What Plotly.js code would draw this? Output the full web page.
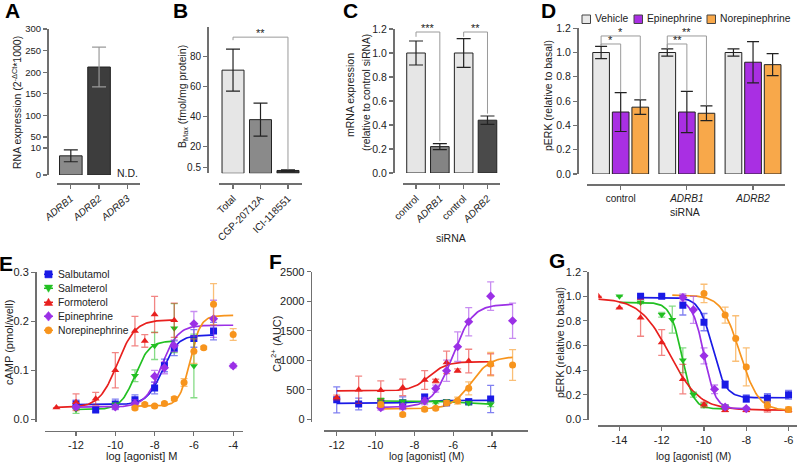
<!DOCTYPE html>
<html><head><meta charset="utf-8">
<script src="https://cdn.plot.ly/plotly-3.0.1.min.js"></script>
<style>html,body{margin:0;padding:0;background:#fff}#chart{width:800px;height:464px}</style>
</head><body><div id="chart"></div>
<script>
// ================= DATA =================
// Panel A: RNA expression
const genesA = ['ADRB1', 'ADRB2', 'ADRB3'];
const rnaExpr = [7.1, 212, null];          // ADRB3 not detected
const rnaErr = [2.2, 46, null];
// Panel B: Bmax
const ligandsB = ['Total', 'CGP-20712A', 'ICI-118551'];
const bmax = [71, 38, 0.25];
const bmaxErr = [14, 11, 0.05];
// Panel C: mRNA expression after siRNA
const sirnaC = ['control', 'ADRB1', 'control', 'ADRB2'];
const mrnaRel = [1.0, 0.22, 1.0, 0.44];
const mrnaErr = [0.10, 0.025, 0.12, 0.035];
// Panel D: pERK by siRNA
const sirnaD = ['control', 'ADRB1', 'ADRB2'];
const treatmentsD = ['Vehicle', 'Epinephrine', 'Norepinephrine'];
const perkVehicle = [1.0, 1.0, 1.0];
const perkVehicleErr = [0.05, 0.03, 0.03];
const perkEpi = [0.51, 0.51, 0.92];
const perkEpiErr = [0.16, 0.17, 0.17];
const perkNorepi = [0.55, 0.50, 0.90];
const perkNorepiErr = [0.06, 0.06, 0.09];

// Agonists (E, F, G)
const agonists = ['Salbutamol', 'Salmeterol', 'Formoterol', 'Epinephrine', 'Norepinephrine'];

// Panel E: cAMP (pmol/well)
const eSalbutamolX = [-12, -11, -10, -9, -8, -7.5, -7, -6, -5];
const eSalbutamolY = [0.031, 0.019, 0.031, 0.040, 0.064, 0.110, 0.145, 0.165, 0.180];
const eSalbutamolErr = [0.008, 0.004, 0.010, 0.010, 0.012, 0.013, 0.015, 0.018, 0.018];
const eSalmeterolX = [-12, -10, -9, -8, -7, -6];
const eSalmeterolY = [0.020, 0.029, 0.089, 0.150, 0.186, 0.109];
const eSalmeterolErr = [0.008, 0.005, 0.012, 0.028, 0.050, 0.065];
const eFormoterolX = [-13, -12, -11, -10, -9, -8.5, -8, -7];
const eFormoterolY = [0.024, 0.035, 0.042, 0.100, 0.180, 0.160, 0.214, 0.202];
const eFormoterolErr = [0, 0.017, 0.013, 0.036, 0.030, 0.013, 0.037, 0.035];
const eEpinephrineX = [-12, -10, -9, -8, -7.5, -7, -6, -5, -4];
const eEpinephrineY = [0.025, 0.025, 0.032, 0.088, 0.105, 0.150, 0.195, 0.205, 0.109];
const eEpinephrineErr = [0.004, 0.005, 0.008, 0.012, 0.012, 0.012, 0.025, 0.038, 0.004];
const eNorepinephrineX = [-9, -8.5, -8, -7.5, -7, -6.5, -6, -5.5, -5, -4];
const eNorepinephrineY = [0.023, 0.030, 0.027, 0.032, 0.042, 0.075, 0.139, 0.146, 0.235, 0.173];
const eNorepinephrineErr = [0.003, 0.003, 0.003, 0.003, 0.004, 0.008, 0.025, 0.003, 0.042, 0.012];
// fitted curves E: [left plateau, right plateau, logEC50, hill], span
const eFits = [[0.030, 0.172, -7.6, 1.1], [0.020, 0.160, -9.0, 1.2], [0.024, 0.203, -9.9, 0.95], [0.025, 0.192, -7.65, 1.05], [0.027, 0.212, -6.2, 1.6]];
const eSpans = [[-12, -5], [-12, -7], [-13, -7], [-12, -4], [-9, -4]];

// Panel F: Ca2+ (AUC) -- x positions read against the drawn axis ticks
const fSalbutamolX = [-12, -10.87, -9.73, -8.6, -7.47, -6.34, -5.2, -4.07];
const fSalbutamolY = [330, 260, 270, 280, 372, 282, 299, 344];
const fSalbutamolErr = [220, 100, 60, 100, 60, 50, 50, 230];
const fSalmeterolX = [-9.73, -8.6, -7.47, -6.9, -6.34, -5.2, -4.07];
const fSalmeterolY = [330, 300, 295, 290, 300, 275, 255];
const fSalmeterolErr = [30, 30, 25, 25, 30, 30, 40];
const fFormoterolX = [-12, -10.87, -9.73, -8.6, -7.47, -6.9, -6.34, -5.77, -5.2, -4.07];
const fFormoterolY = [370, 500, 490, 540, 665, 648, 964, 823, 986, 930];
const fFormoterolErr = [40, 230, 160, 140, 160, 30, 190, 30, 200, 180];
const fEpinephrineX = [-9.73, -8.6, -7.47, -6.9, -6.34, -5.77, -5.2, -4.07, -2.94];
const fEpinephrineY = [195, 215, 310, 520, 823, 1229, 1652, 2086, 1669];
const fEpinephrineErr = [40, 50, 60, 60, 180, 250, 240, 240, 300];
const fNorepinephrineX = [-9.73, -8.6, -7.47, -6.9, -6.34, -5.77, -5.2, -4.07, -2.94];
const fNorepinephrineY = [250, 80, 170, 186, 275, 316, 524, 935, 919];
const fNorepinephrineErr = [40, 25, 30, 25, 40, 60, 110, 200, 260];
const fFits = [[270, 320, -8.03, 0.88], [310, 255, -5.77, 0.88], [480, 975, -7.24, 0.97], [200, 1950, -6.03, 0.84], [175, 1060, -5.09, 0.88]];
const fSpans = [[-12, -4.07], [-9.73, -4.07], [-12, -4.07], [-9.73, -2.94], [-9.73, -2.94]];

// Panel G: pERK (relative to basal)
const gSalbutamolX = [-13, -12, -11, -10, -9, -8, -7, -6];
const gSalbutamolY = [1.0, 1.0, 0.928, 0.79, 0.282, 0.168, 0.174, 0.20];
const gSalbutamolErr = [0.01, 0.01, 0.08, 0.07, 0.03, 0.03, 0.035, 0.035];
const gSalmeterolX = [-14, -13, -12, -11.5, -11, -10.5, -10, -9];
const gSalmeterolY = [1.0, 0.95, 0.85, 0.81, 0.48, 0.20, 0.114, 0.10];
const gSalmeterolErr = [0, 0.01, 0.02, 0.11, 0.10, 0.02, 0.02, 0.02];
const gFormoterolX = [-15, -14, -13, -12, -11, -10, -9, -8, -7, -6];
const gFormoterolY = [1.0, 0.906, 0.825, 0.624, 0.326, 0.12, 0.073, 0.073, 0.079, 0.073];
const gFormoterolErr = [0, 0, 0.15, 0.105, 0.12, 0.02, 0.01, 0.01, 0.02, 0.015];
const gEpinephrineX = [-11, -10.5, -10, -9.5, -9, -8];
const gEpinephrineY = [0.99, 0.89, 0.516, 0.244, 0.10, 0.087];
const gEpinephrineErr = [0.03, 0.11, 0.065, 0.035, 0.02, 0.01];
const gNorepinephrineX = [-10, -9, -8.5, -8, -7, -6];
const gNorepinephrineY = [1.023, 0.847, 0.657, 0.426, 0.115, 0.08];
const gNorepinephrineErr = [0.075, 0.065, 0.185, 0.155, 0.03, 0.02];
const gFits = [[0.99, 0.175, -9.6, 1.4], [0.95, 0.085, -11.05, 1.6], [0.985, 0.075, -11.63, 0.62], [0.97, 0.085, -10.0, 1.6], [1.01, 0.07, -8.3, 1.0]];
const gSpans = [[-13, -6], [-14, -9], [-15, -6], [-11, -8], [-11.5, -6]];

const logTicks = [-14, -12, -10, -8, -6, -4];

// ================= STYLE / HELPERS =================
const FONT = 'Liberation Sans, Arial, Helvetica, sans-serif';
const W = 800, H = 464;
const px = x => x / W;
const py = y => 1 - y / H;
const colors = ['#1a1ae6', '#22c022', '#e8201e', '#9b30e6', '#f7941d'];
const errColors = ['rgba(26,26,230,0.55)', 'rgba(34,192,34,0.55)', 'rgba(232,32,30,0.55)', 'rgba(155,48,230,0.55)', 'rgba(247,148,29,0.6)'];
const symbols = ['square', 'triangle-down', 'triangle-up', 'diamond', 'circle'];

// broken-axis transforms (display units)
function brkA(v) { if (v <= 10) return v * 2.7; if (v <= 50) return 27 + (v - 10) * (11 / 40); return 38 + (v - 50) * 0.432; }
function brkB(v) { if (v <= 0.5) return v * 11.3; if (v < 6) return 5.65; return 5.65 + (v - 6) * 1.5; }

function fourPL(p, x) { return p[0] + (p[1] - p[0]) / (1 + Math.pow(10, (p[2] - x) * p[3])); }
function curve(p, span) {
  const xs = [], ys = [];
  for (let i = 0; i <= 100; i++) { const x = span[0] + (span[1] - span[0]) * i / 100; xs.push(x); ys.push(fourPL(p, x)); }
  return { xs, ys };
}

const axisBase = {
  showgrid: false, zeroline: false, showline: true, linecolor: '#707070', linewidth: 1.5,
  ticks: 'outside', ticklen: 4, tickwidth: 1.2, tickcolor: '#707070',
  tickfont: { family: FONT, size: 11, color: '#222' }, anchor: 'free', fixedrange: true
};
function xax(d0, d1, range, pos, extra) { return Object.assign({}, axisBase, { domain: [px(d0), px(d1)], range: range, position: py(pos) }, extra || {}); }
function yax(top, bottom, range, pos, extra) { return Object.assign({}, axisBase, { domain: [py(bottom), py(top)], range: range, position: px(pos) }, extra || {}); }
const smallFont = { family: FONT, size: 10, color: '#222' };

const traces = [];
const shapes = [];
const annos = [];

function barTrace(xa, ya, xs, ys, up, down, color, errColor, width, extra) {
  return Object.assign({
    type: 'bar', x: xs, y: ys, width: width, xaxis: xa, yaxis: ya, showlegend: false, hoverinfo: 'skip',
    marker: { color: color, line: { color: '#222', width: 1 } },
    error_y: { type: 'data', symmetric: false, array: up, arrayminus: down, color: errColor, thickness: 1.2, width: 7 }
  }, extra || {});
}
function line(xref, yref, x0, y0, x1, y1, color, width) {
  shapes.push({ type: 'line', xref: xref, yref: yref, x0: x0, y0: y0, x1: x1, y1: y1, line: { color: color || '#9a9a9a', width: width || 1 } });
}
function bracket(xref, yref, xa, xb, level, ya, yb, stars) {
  line(xref, yref, xa, ya, xa, level);
  line(xref, yref, xa, level, xb, level);
  line(xref, yref, xb, level, xb, yb);
  annos.push({ xref: xref, yref: yref, x: (xa + xb) / 2, y: level, text: stars, showarrow: false, yanchor: 'bottom', yshift: -4, font: { family: FONT, size: 11, color: '#222' } });
}

// ================= PANEL A =================
[0, 1].forEach(i => {
  const v = rnaExpr[i], e = rnaErr[i];
  traces.push(barTrace('x', 'y', [i], [brkA(v)], [brkA(v + e) - brkA(v)], [brkA(v) - brkA(v - e)],
    i === 0 ? '#8a8a8a' : '#3d3d3d', i === 0 ? '#222' : '#9a9a9a', 0.8));
});
annos.push({ xref: 'x', yref: 'y', x: 2, y: brkA(0.7), text: 'N.D.', showarrow: false, yanchor: 'middle', font: { family: FONT, size: 10.5, color: '#222' } });

// ================= PANEL B =================
traces.push(barTrace('x2', 'y2', [0, 1, 2], bmax.map(brkB),
  bmax.map((v, i) => brkB(v + bmaxErr[i]) - brkB(v)), bmax.map((v, i) => brkB(v) - brkB(Math.max(v - bmaxErr[i], 0))),
  ['#e6e6e6', '#8a8a8a', '#333333'], '#222', 0.8));
bracket('x2', 'y2', 0, 2, brkB(93), brkB(91), brkB(bmax[2] + bmaxErr[2] + 0.05), '**');

// ================= PANEL C =================
traces.push(barTrace('x3', 'y3', [0, 1, 2, 3], mrnaRel, mrnaErr, mrnaErr,
  ['#e6e6e6', '#848484', '#e6e6e6', '#4a4a4a'], '#222', 0.78));
bracket('x3', 'y3', 0, 1, 1.175, 1.135, mrnaRel[1] + mrnaErr[1] + 0.02, '***');
bracket('x3', 'y3', 2, 3, 1.175, 1.135, mrnaRel[3] + mrnaErr[3] + 0.02, '**');

// ================= PANEL D =================
const dVals = [perkVehicle, perkEpi, perkNorepi];
const dErrs = [perkVehicleErr, perkEpiErr, perkNorepiErr];
const dColors = ['#e8e8e8', '#a92fe3', '#f8a84a'];
const dSlot = 0.296, dWidth = 0.252;
dVals.forEach((vals, t) => {
  traces.push(barTrace('x4', 'y4', [0, 1, 2], vals, dErrs[t], dErrs[t], dColors[t], '#222', dWidth,
    { name: treatmentsD[t], offset: (t - 1) * dSlot - dWidth / 2, error_y: { type: 'data', array: dErrs[t], color: '#222', thickness: 1.2, width: 6 } }));
});
[0, 1].forEach(g => {
  const xv = g - dSlot, xe = g, xn = g + dSlot;
  const vTop = perkVehicle[g] + perkVehicleErr[g] + 0.005;
  bracket('x4', 'y4', xv, xe, 1.07, vTop, perkEpi[g] + perkEpiErr[g] + 0.005, g === 0 ? '*' : '**');
  bracket('x4', 'y4', xv, xn, 1.136, vTop, perkNorepi[g] + perkNorepiErr[g] + 0.005, g === 0 ? '*' : '**');
});
// legend for D (swatches + text)
const legDX = [582, 634, 707];
treatmentsD.forEach((name, t) => {
  shapes.push({ type: 'rect', xref: 'paper', yref: 'paper', x0: px(legDX[t]), x1: px(legDX[t] + 8.5), y0: py(23.5), y1: py(15),
    fillcolor: dColors[t], line: { color: '#444', width: 1 } });
  annos.push({ xref: 'paper', yref: 'paper', x: px(legDX[t] + 10.5), y: py(19), xanchor: 'left', yanchor: 'middle', text: name, showarrow: false,
    font: { family: FONT, size: 10.3, color: '#222' } });
});

// ================= PANELS E, F, G =================
const eX = [eSalbutamolX, eSalmeterolX, eFormoterolX, eEpinephrineX, eNorepinephrineX];
const eY = [eSalbutamolY, eSalmeterolY, eFormoterolY, eEpinephrineY, eNorepinephrineY];
const eE = [eSalbutamolErr, eSalmeterolErr, eFormoterolErr, eEpinephrineErr, eNorepinephrineErr];
const fX = [fSalbutamolX, fSalmeterolX, fFormoterolX, fEpinephrineX, fNorepinephrineX];
const fY = [fSalbutamolY, fSalmeterolY, fFormoterolY, fEpinephrineY, fNorepinephrineY];
const fE = [fSalbutamolErr, fSalmeterolErr, fFormoterolErr, fEpinephrineErr, fNorepinephrineErr];
const gX = [gSalbutamolX, gSalmeterolX, gFormoterolX, gEpinephrineX, gNorepinephrineX];
const gY = [gSalbutamolY, gSalmeterolY, gFormoterolY, gEpinephrineY, gNorepinephrineY];
const gE = [gSalbutamolErr, gSalmeterolErr, gFormoterolErr, gEpinephrineErr, gNorepinephrineErr];

const panels = [
  { xa: 'x5', ya: 'y5', X: eX, Y: eY, E: eE, fits: eFits, spans: eSpans },
  { xa: 'x6', ya: 'y6', X: fX, Y: fY, E: fE, fits: fFits, spans: fSpans },
  { xa: 'x7', ya: 'y7', X: gX, Y: gY, E: gE, fits: gFits, spans: gSpans }
];
panels.forEach(p => {
  agonists.forEach((name, i) => {
    const c = curve(p.fits[i], p.spans[i]);
    traces.push({ type: 'scatter', mode: 'lines', x: c.xs, y: c.ys, xaxis: p.xa, yaxis: p.ya, showlegend: false, hoverinfo: 'skip',
      line: { color: colors[i], width: 1.7 } });
  });
  agonists.forEach((name, i) => {
    traces.push({ type: 'scatter', mode: 'markers', name: name, x: p.X[i], y: p.Y[i], xaxis: p.xa, yaxis: p.ya,
      showlegend: false, hoverinfo: 'skip',
      marker: { symbol: symbols[i], color: colors[i], size: 7 },
      error_y: { type: 'data', array: p.E[i], color: errColors[i], thickness: 1.3, width: 3.5 } });
  });
});

// legend for E (marker swatches + text), 14 px row spacing as in the figure
const legEX = 48.5, legEY0 = 274.3, legEStep = 14;
agonists.forEach((name, i) => {
  const cx = legEX, cy = legEY0 + i * legEStep;
  line('paper', 'paper', px(cx - 4.5), py(cy), px(cx + 4.5), py(cy), colors[i], 1.5);
  const r = 3.6;
  let shp;
  if (i === 0) shp = { type: 'rect', x0: px(cx - r), x1: px(cx + r), y0: py(cy + r), y1: py(cy - r) };
  else if (i === 4) shp = { type: 'circle', x0: px(cx - r), x1: px(cx + r), y0: py(cy + r), y1: py(cy - r) };
  else {
    let pts;
    if (i === 1) pts = [[cx - 4.2, cy - 3.2], [cx + 4.2, cy - 3.2], [cx, cy + 4]];
    else if (i === 2) pts = [[cx - 4.2, cy + 3.2], [cx + 4.2, cy + 3.2], [cx, cy - 4]];
    else pts = [[cx, cy - 4.8], [cx + 4, cy], [cx, cy + 4.8], [cx - 4, cy]];
    shp = { type: 'path', path: 'M' + pts.map(q => px(q[0]) + ',' + py(q[1])).join(' L') + ' Z' };
  }
  shapes.push(Object.assign(shp, { xref: 'paper', yref: 'paper', fillcolor: colors[i], line: { color: colors[i], width: 0.5 } }));
  annos.push({ xref: 'paper', yref: 'paper', x: px(56), y: py(cy), xanchor: 'left', yanchor: 'middle', text: name, showarrow: false,
    font: { family: FONT, size: 10.3, color: '#222' } });
});

// ================= TITLES / LABELS =================
function ytitle(x, y, text, size) {
  annos.push({ xref: 'paper', yref: 'paper', x: px(x), y: py(y), text: text, textangle: -90, showarrow: false,
    xanchor: 'center', yanchor: 'middle', font: { family: FONT, size: size || 10.5, color: '#222' } });
}
function xtitle(x, y, text, size) {
  annos.push({ xref: 'paper', yref: 'paper', x: px(x), y: py(y), text: text, showarrow: false,
    xanchor: 'center', yanchor: 'middle', font: { family: FONT, size: size || 10.5, color: '#222' } });
}
ytitle(16, 103, 'RNA expression (2<sup>-ΔCt</sup>*1000)', 10.5);
ytitle(183, 97, 'B<sub>Max</sub> (fmol/mg protein)', 10.5);
ytitle(350, 95, 'mRNA expression', 10.5);
ytitle(366, 93, '(relative to control siRNA)', 10.3);
ytitle(548, 96, 'pERK (relative to basal)', 10.5);
xtitle(451, 238, 'siRNA', 10.5);
xtitle(685, 212, 'siRNA', 10.5);
ytitle(9, 343, 'cAMP (pmol/well)', 11);
ytitle(276, 344, 'Ca<sup>2+</sup> (AUC)', 11);
ytitle(560, 343, 'pERK (relative to basal)', 10.5);
xtitle(142, 456, 'log [agonist] M', 11);
xtitle(427, 456, 'log [agonist] (M)', 10.5);
xtitle(693, 456, 'log [agonist] (M)', 10.5);

const letters = [['A', 12, 11], ['B', 180, 10], ['C', 350, 10], ['D', 548, 10], ['E', 6, 263], ['F', 275, 261], ['G', 557, 260]];
letters.forEach(l => annos.push({ xref: 'paper', yref: 'paper', x: px(l[1]), y: py(l[2]), text: '<b>' + l[0] + '</b>', showarrow: false,
  xanchor: 'center', yanchor: 'middle', font: { family: FONT, size: 21, color: '#000' } }));

// ================= LAYOUT =================
const layout = {
  width: W, height: H, margin: { l: 0, r: 0, t: 0, b: 0 }, paper_bgcolor: '#fff', plot_bgcolor: 'rgba(0,0,0,0)',
  font: { family: FONT, size: 11, color: '#222' }, barmode: 'overlay', showlegend: false,
  // A
  xaxis: xax(56.7, 140, [-0.5, 2.45], 183.3, { tickvals: [0, 1, 2], ticktext: genesA.map(g => '<i>' + g + '</i>'), tickangle: -40, tickfont: smallFont }),
  yaxis: yax(29, 175, [0, 146], 47, { tickvals: [0, 10, 50, 100, 150, 200, 250, 300].map(brkA), ticktext: ['0', '10', '50', '100', '150', '200', '250', '300'], tickfont: { family: FONT, size: 9.5, color: '#222' } }),
  // B
  xaxis2: xax(219, 302, [-0.51, 2.51], 183.3, { tickvals: [0, 1, 2], ticktext: ligandsB, tickangle: -45, tickfont: smallFont }),
  yaxis2: yax(27, 173.3, [0, 146.3], 207, { tickvals: [0.5, 20, 40, 60, 80, 100].map(brkB), ticktext: ['0.5', '20', '40', '60', '80', '100'], tickfont: smallFont }),
  // C
  xaxis3: xax(403, 500, [-0.546, 3.525], 183.3, { tickvals: [0, 1, 2, 3], ticktext: sirnaC.map(s => s === 'control' ? s : '<i>' + s + '</i>'), tickangle: -45, tickfont: smallFont }),
  yaxis3: yax(29, 173, [0, 1.2], 393, { dtick: 0.2, tickformat: '.1f', tickfont: { family: FONT, size: 10.5, color: '#222' } }),
  // D
  xaxis4: xax(587, 785, [-0.509, 2.483], 184, { tickvals: [0, 1, 2], ticktext: sirnaD.map(s => s === 'control' ? s : '<i>' + s + '</i>'), tickangle: 0, tickfont: smallFont }),
  yaxis4: yax(28.2, 174, [0, 1.2], 577, { dtick: 0.2, tickformat: '.1f', tickfont: { family: FONT, size: 10.5, color: '#222' } }),
  // E
  xaxis5: xax(45, 243, [-13.58, -3.5], 430.7, { tickvals: logTicks, ticktext: logTicks.map(String) }),
  yaxis5: yax(272.3, 422, [-0.0055, 0.3], 35, { dtick: 0.1, tickformat: '.1f' }),
  // F
  xaxis6: xax(324.3, 528.3, [-12.64, -2.13], 430, { tickvals: logTicks, ticktext: logTicks.map(String) }),
  yaxis6: yax(271.7, 422, [-46, 2500], 310.7, { dtick: 500 }),
  // G
  xaxis7: xax(598.3, 797, [-15.0, -5.6], 425, { tickvals: logTicks, ticktext: logTicks.map(String) }),
  yaxis7: yax(271.7, 420, [-0.0057, 1.2], 587.3, { dtick: 0.2, tickformat: '.1f' }),
  shapes: shapes,
  annotations: annos
};

Plotly.newPlot('chart', traces, layout, { staticPlot: true, displayModeBar: false });
</script>
</body></html>
